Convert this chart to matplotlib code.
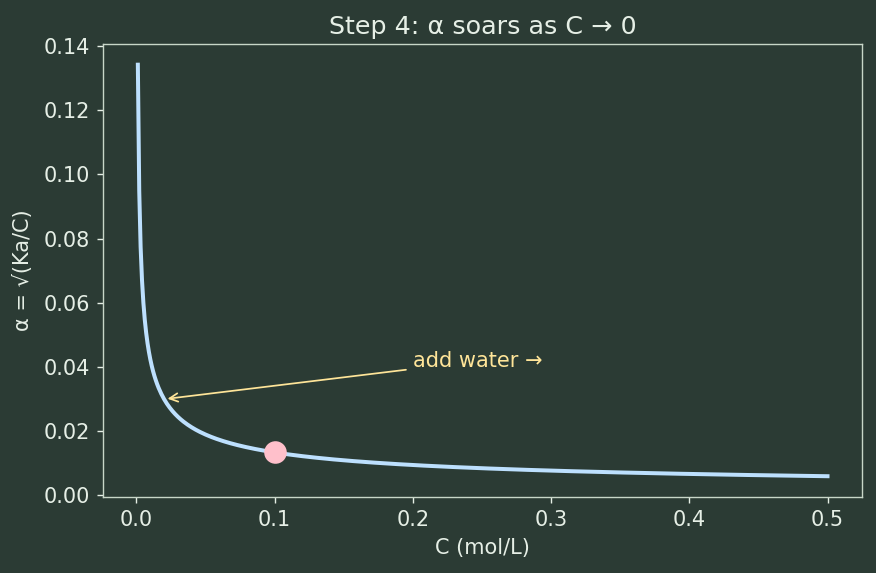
import numpy as np
import matplotlib
matplotlib.use("Agg")
import matplotlib.pyplot as plt

# Data
Ka = 1.8e-5
C_values = np.linspace(0.001, 0.5, 500)
alpha_values = np.sqrt(Ka / C_values)
marker_C = [0.1]
marker_alpha = [np.sqrt(Ka / 0.1)]
annot_xy = (0.02, np.sqrt(Ka / 0.02))
annot_text_xy = (0.2, 0.04)

bg = "#2b3b34"
fg = "#e6efe6"
spine = "#c8d6c8"

dpi = 125
fig, ax = plt.subplots(figsize=(876 / dpi, 573 / dpi), dpi=dpi)
fig.patch.set_facecolor(bg)
ax.set_facecolor(bg)

ax.plot(C_values, alpha_values, color="#bde0fe", lw=2.3)
ax.plot(marker_C, marker_alpha, "o", color="#ffc0cb", ms=12)
ax.annotate("add water →", xy=annot_xy, xytext=annot_text_xy,
            color="#ffe599", fontsize=12,
            arrowprops=dict(arrowstyle="->", color="#ffe599", lw=1.0))

ax.set_title("Step 4: α soars as C → 0", color=fg, fontsize=14.6)
ax.set_xlabel("C (mol/L)", color=fg, fontsize=12, labelpad=5)
ax.set_ylabel("α = √(Ka/C)", color=fg, fontsize=12, labelpad=6)
ax.tick_params(colors=fg, labelsize=12, pad=4)
for s in ax.spines.values():
    s.set_color(spine)

fig.subplots_adjust(left=0.118, right=0.984, top=0.923, bottom=0.133)
fig.savefig("out.png", facecolor=bg, dpi=dpi)
